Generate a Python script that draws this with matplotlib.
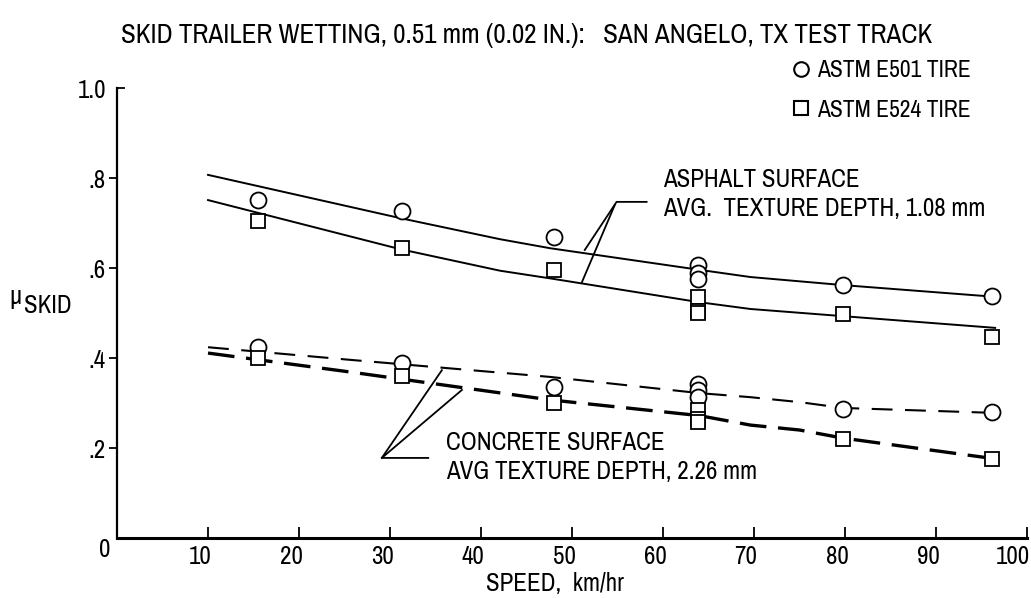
import matplotlib
matplotlib.use("Agg")
import matplotlib.pyplot as plt
from matplotlib import font_manager
from matplotlib.lines import Line2D
from matplotlib.transforms import ScaledTranslation

# data (speed km/hr, mu_skid)
speed = [15.5, 31.3, 48.0, 79.8, 96.2]
speed_65 = 63.8

asph_e501 = [0.751, 0.727, 0.669, 0.562, 0.538]
asph_e501_65 = [0.607, 0.589, 0.575]
asph_e524 = [0.704, 0.644, 0.596, 0.498, 0.447]
asph_e524_65 = [0.536, 0.505, 0.500]

conc_e501 = [0.424, 0.389, 0.336, 0.287, 0.280]
conc_e501_65 = [0.343, 0.328, 0.313]
conc_e524 = [0.400, 0.360, 0.300, 0.220, 0.176]
conc_e524_65 = [0.284, 0.265, 0.258]

# fitted curves, points
fit_asph_x = [10, 31.1, 42.1, 47.6, 64, 69.6, 79.8, 96.5]
fit_asph_e501 = [0.807, 0.711, 0.664, 0.644, 0.596, 0.580, 0.562, 0.536]
fit_asph_e524 = [0.751, 0.642, 0.594, 0.577, 0.524, 0.509, 0.493, 0.467]
fit_conc_x = [10, 25.6, 47.6, 64, 69.6, 75, 79.8, 96.5]
fit_conc_e501 = [0.424, 0.396, 0.358, 0.322, 0.313, 0.302, 0.289, 0.278]
fit_conc_e524 = [0.411, 0.369, 0.307, 0.272, 0.251, 0.240, 0.222, 0.176]

xticks = [10, 20, 30, 40, 50, 60, 70, 80, 90, 100]
yticks = [0.2, 0.4, 0.6, 0.8]
ytick_labels = [".2", ".4", ".6", ".8"]

# look for a narrow face, otherwise Liberation Sans
font, stretch, k = "Liberation Sans", "normal", 0.88
for f in font_manager.fontManager.ttflist:
    if "Narrow" in f.name or "Condensed" in f.name:
        font, stretch, k = f.name, "normal", 1.0
        break
else:
    for f in font_manager.fontManager.ttflist:
        if f.name in ("DejaVu Sans", "Liberation Sans", "Noto Sans", "Open Sans", "Roboto") \
                and "condensed" in str(f.stretch) and f.style == "normal":
            font, stretch, k = f.name, f.stretch, 1.0
            break
plt.rcParams["font.family"] = [font, "DejaVu Sans"]
plt.rcParams["font.stretch"] = stretch
fs = 18 * k

fig = plt.figure(figsize=(10.31, 5.98), dpi=100)
ax = fig.add_axes([0.1135, 0.1003, 0.8826, 0.7525])
ax.set_xlim(0, 100)
ax.set_ylim(0, 1.0)

for s in ["top", "right"]:
    ax.spines[s].set_visible(False)
ax.spines["left"].set_linewidth(1.6)
ax.spines["bottom"].set_linewidth(2.2)

# curves
ax.plot(fit_asph_x, fit_asph_e501, color="black", lw=1.4)
ax.plot(fit_asph_x, fit_asph_e524, color="black", lw=1.4)
ax.plot(fit_conc_x, fit_conc_e501, color="black", lw=1.5, dashes=(10, 6))
ax.plot(fit_conc_x, fit_conc_e524, color="black", lw=2.4, dashes=(8, 3.5))

mk = dict(markerfacecolor="white", markeredgecolor="black",
          markeredgewidth=1.3, linestyle="none", zorder=5)
for ys, ys65, m, ms in [(asph_e501, asph_e501_65, "o", 11.5), (asph_e524, asph_e524_65, "s", 10.5),
                        (conc_e501, conc_e501_65, "o", 11.5), (conc_e524, conc_e524_65, "s", 10.5)]:
    ax.plot(speed, ys, marker=m, ms=ms, **mk)
    ax.plot([speed_65] * len(ys65), ys65, marker=m, ms=ms, **mk)

# leader lines + labels
ax.plot([51.4, 54.9, 58.2], [0.640, 0.747, 0.747], color="black", lw=1.3)
ax.plot([51.1, 54.7], [0.569, 0.740], color="black", lw=1.3)
ax.text(60.0, 0.765, "ASPHALT SURFACE\nAVG.  TEXTURE DEPTH, 1.08 mm",
        fontsize=fs, va="center", ha="left", linespacing=1.3)

ax.plot([35.7, 29.1, 34.2], [0.373, 0.178, 0.178], color="black", lw=1.3)
ax.plot([37.9, 29.1], [0.329, 0.178], color="black", lw=1.3)
ax.text(36.2, 0.180, "CONCRETE SURFACE\nAVG TEXTURE DEPTH, 2.26 mm",
        fontsize=fs, va="center", ha="left", linespacing=1.3)

# ticks
ax.set_xticks(xticks)
ax.set_xticklabels([str(t) for t in xticks], fontsize=fs)
ax.tick_params(axis="x", direction="in", length=8, width=1.3, pad=5)
for lab in ax.get_xticklabels():
    dx = -14 if lab.get_text() == "100" else -8
    lab.set_transform(lab.get_transform() + ScaledTranslation(dx / 100, 0, fig.dpi_scale_trans))

ax.set_yticks(yticks)
ax.set_yticklabels(ytick_labels, fontsize=fs)
ax.set_yticks([1.0], minor=True)
ax.set_yticklabels(["1.0"], minor=True, fontsize=fs)
ax.tick_params(axis="y", which="major", direction="out", length=6, width=1.3, pad=2)
ax.tick_params(axis="y", which="minor", direction="in", length=6, width=1.3, pad=8)
ax.text(0, 0, "0", fontsize=fs, ha="right", va="top",
        transform=ax.transData + ScaledTranslation(-7 / 100, 0, fig.dpi_scale_trans))

ax.set_xlabel("SPEED,  km/hr", fontsize=fs)
ax.xaxis.set_label_coords(0.481, -0.075)
fig.text(0.009, 0.492, "\u03bc", fontsize=fs + 1, ha="left", va="baseline")
fig.text(0.023, 0.477, "SKID", fontsize=fs, ha="left", va="baseline")

fig.text(0.117, 0.928, "SKID TRAILER WETTING, 0.51 mm (0.02 IN.):   SAN ANGELO, TX TEST TRACK",
         fontsize=19.5 * k, ha="left", va="baseline")

handles = [Line2D([], [], marker="o", ms=10.5, markerfacecolor="white", markeredgecolor="black",
                  markeredgewidth=1.5, linestyle="none"),
           Line2D([], [], marker="s", ms=9.5, markerfacecolor="white", markeredgecolor="black",
                  markeredgewidth=1.5, linestyle="none")]
fig.legend(handles, ["ASTM E501 TIRE", "ASTM E524 TIRE"], loc="upper left",
           bbox_to_anchor=(0.7677, 0.900), frameon=False, fontsize=17 * k,
           handlelength=0.8, handletextpad=0.3, labelspacing=0.8,
           borderpad=0, borderaxespad=0)

fig.savefig("out.png", dpi=100)
